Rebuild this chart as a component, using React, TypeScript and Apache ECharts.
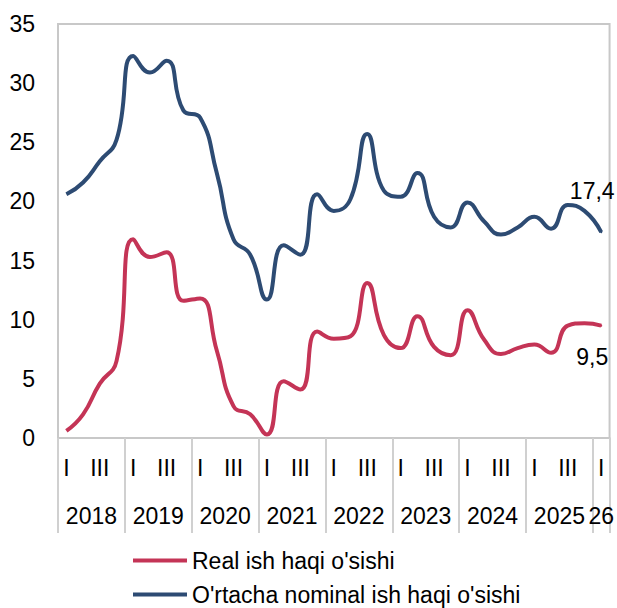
import React, { useEffect, useRef } from 'react';
import * as echarts from 'echarts';

const years = ['2018', '2019', '2020', '2021', '2022', '2023', '2024', '2025', '26'];
const quartersPerYear = [4, 4, 4, 4, 4, 4, 4, 4, 1];
const quarterMarks = ['I', '', 'III', ''];

const seriesNames = ["Real ish haqi o'sishi", "O'rtacha nominal ish haqi o'sishi"];

const realGrowth = [
  0.6, 2.0, 4.6, 6.5,
  16.8, 15.3, 15.7, 11.6,
  11.8, 7.4, 2.7, 2.0,
  0.3, 4.8, 4.1, 9.0,
  8.4, 8.6, 13.1, 8.7,
  7.6, 10.3, 7.7, 7.0,
  10.8, 8.3, 7.1, 7.6,
  7.9, 7.2, 9.5, 9.7,
  9.5,
];

const nominalGrowth = [
  20.6, 21.6, 23.4, 25.2,
  32.3, 30.9, 31.9, 27.7,
  27.1, 22.4, 16.8, 15.5,
  11.7, 16.3, 15.5, 20.6,
  19.2, 20.2, 25.7, 20.9,
  20.4, 22.4, 18.7, 17.8,
  19.9, 18.3, 17.2, 17.8,
  18.7, 17.7, 19.7, 19.2,
  17.4,
];

const yMin = 0;
const yMax = 35;
const yStep = 5;

const FONT = "'Liberation Sans', Arial, sans-serif";
const RED = '#c43456';
const BLUE = '#2d4b73';
const SEP = '#d0d0d0';

export default function App() {
  const ref = useRef<HTMLDivElement>(null);

  useEffect(() => {
    if (!ref.current) return;
    const chart = echarts.init(ref.current, undefined, { renderer: 'svg' });

    const quarterLabels: string[] = [];
    years.forEach((y, k) => {
      for (let q = 0; q < quartersPerYear[k]; q++) quarterLabels.push(quarterMarks[q]);
    });
    const n = quarterLabels.length;

    const yearSlots: string[] = new Array(2 * n + 1).fill('');
    let start = 0;
    years.forEach((y, k) => {
      yearSlots[2 * start + quartersPerYear[k]] = y;
      start += quartersPerYear[k];
    });

    const fmt = (p: any) => String(p.value).replace('.', ',');
    const last = n - 1;
    const labelStyle = { fontSize: 23, color: '#000', fontFamily: FONT };

    const realData = realGrowth.map((v, i) =>
      i === last
        ? {
            value: v,
            symbol: 'circle',
            symbolSize: 2,
            label: { show: true, position: 'bottom', distance: 5, offset: [-9, 14], formatter: fmt, ...labelStyle },
          }
        : v
    );
    const nominalData = nominalGrowth.map((v, i) =>
      i === last
        ? {
            value: v,
            symbol: 'circle',
            symbolSize: 2,
            label: { show: true, position: 'top', distance: 5, offset: [-9, -24], formatter: fmt, ...labelStyle },
          }
        : v
    );

    chart.setOption({
      animation: false,
      textStyle: { fontFamily: FONT },
      grid: {
        left: 58,
        right: 5,
        top: 24,
        bottom: 170,
        show: true,
        borderColor: '#c8c8c8',
        borderWidth: 2,
        backgroundColor: 'transparent',
      },
      legend: {
        orient: 'vertical',
        left: 133,
        top: 549,
        height: 70,
        padding: 0,
        itemWidth: 54,
        itemHeight: 4,
        itemGap: 11,
        icon: 'rect',
        data: seriesNames,
        textStyle: { fontSize: 23, color: '#000', fontFamily: FONT },
      },
      xAxis: [
        {
          type: 'category',
          data: quarterLabels,
          boundaryGap: true,
          position: 'bottom',
          axisLine: { show: true, lineStyle: { color: '#c8c8c8', width: 2 } },
          axisTick: {
            show: true,
            interval: (i: number) => i % 4 === 0,
            length: 95,
            lineStyle: { color: SEP, width: 2 },
          },
          axisLabel: { interval: 0, margin: 18, ...labelStyle },
        },
        {
          type: 'category',
          data: yearSlots,
          boundaryGap: false,
          position: 'bottom',
          axisLine: { show: false },
          axisTick: {
            show: true,
            interval: (i: number) => i === 2 * n,
            length: 95,
            lineStyle: { color: SEP, width: 2 },
          },
          axisLabel: { interval: 0, margin: 66, ...labelStyle },
        },
      ],
      yAxis: {
        type: 'value',
        min: yMin,
        max: yMax,
        interval: yStep,
        splitLine: { show: false },
        axisLine: { show: false },
        axisTick: { show: false },
        axisLabel: { margin: 23, ...labelStyle },
      },
      series: [
        {
          name: seriesNames[0],
          type: 'line',
          xAxisIndex: 0,
          data: realData,
          smooth: 0.5,
          symbol: 'none',
          itemStyle: { color: RED },
          lineStyle: { color: RED, width: 4 },
          emphasis: { disabled: true },
        },
        {
          name: seriesNames[1],
          type: 'line',
          xAxisIndex: 0,
          data: nominalData,
          smooth: 0.5,
          symbol: 'none',
          itemStyle: { color: BLUE },
          lineStyle: { color: BLUE, width: 4 },
          emphasis: { disabled: true },
        },
      ],
    });

    return () => chart.dispose();
  }, []);

  return (
    <div
      ref={ref}
      style={{ position: 'fixed', left: 0, top: 0, width: 617, height: 608, background: '#fff' }}
    />
  );
}
